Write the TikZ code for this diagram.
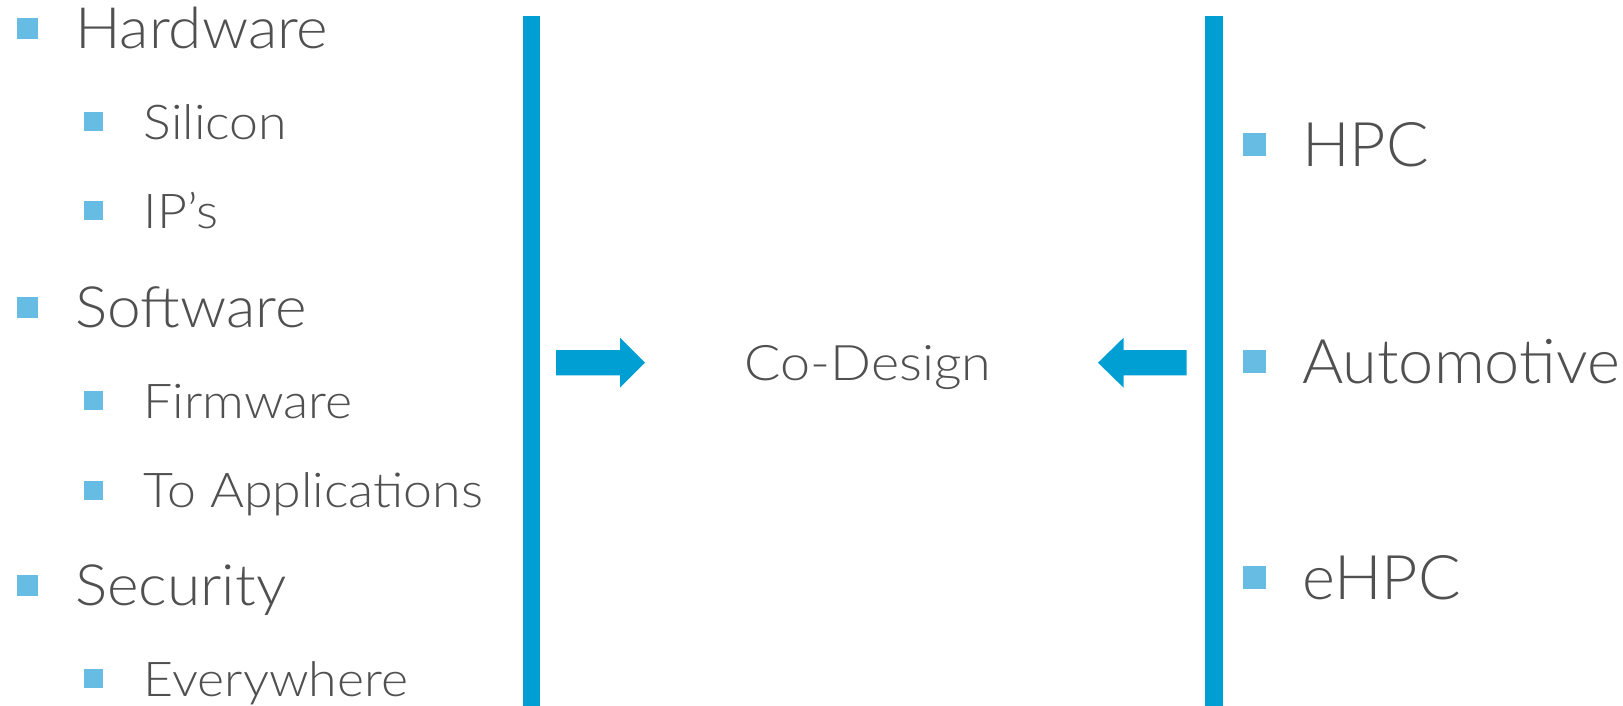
\documentclass[tikz,border=0pt]{standalone}
\usepackage{fontspec}
\newfontfamily\mainf{Lato Light}[FakeStretch=1.06]
\newfontfamily\subf{Lato Light}[FakeStretch=1.08]
\newfontfamily\midf{Lato Light}[FakeStretch=1.10]
\newfontfamily\rightf{Lato Light}[FakeStretch=1.025]
\definecolor{barblue}{RGB}{0,159,211}
\definecolor{bulblue}{RGB}{103,188,228}
\definecolor{txtgrey}{RGB}{80,80,80}
\begin{document}
\begin{tikzpicture}[x=1pt,y=-1pt,
  bar/.style={fill=barblue,draw=none},
  blockarrow/.style={fill=barblue,draw=none},
  bul/.style={fill=bulblue,draw=none,rectangle,inner sep=0pt,minimum size=#1},
  maintxt/.style={anchor=base west,inner sep=0pt,text=txtgrey,font=\mainf\fontsize{57}{60}\selectfont},
  subtxt/.style={anchor=base west,inner sep=0pt,text=txtgrey,font=\subf\fontsize{48}{50}\selectfont},
  righttxt/.style={anchor=base west,inner sep=0pt,text=txtgrey,font=\rightf\fontsize{61.5}{64}\selectfont},
  midtxt/.style={anchor=base,inner sep=0pt,text=txtgrey,font=\midf\fontsize{49}{52}\selectfont}
]
\useasboundingbox (0,0) rectangle (1623,706);

% vertical bars
\fill[bar] (523,16) rectangle (539.5,706);
\fill[bar] (1205,16) rectangle (1223,706);

% left list
\node[bul=21pt] (bhw) at (27.5,28.5) {};
\node[maintxt] (hw) at (75,48.5) {Hardware};
\node[bul=19pt] (bsi) at (93.5,121.7) {};
\node[subtxt] (si) at (143.5,139.2) {Silicon};
\node[bul=19pt] (bip) at (93.5,210) {};
\node[subtxt] (ip) at (143.5,228) {IP’s};
\node[bul=21pt] (bsw) at (27.5,307) {};
\node[maintxt] (sw) at (75,327) {Software};
\node[bul=19pt] (bfw) at (93.5,400.5) {};
\node[subtxt] (fw) at (143.5,418) {Firmware};
\node[bul=19pt] (bta) at (93.5,490) {};
\node[subtxt] (ta) at (143.5,507.5) {To Applications};
\node[bul=21pt] (bse) at (27.5,585.5) {};
\node[maintxt] (se) at (75,605.5) {Security};
\node[bul=19pt] (bev) at (93.5,678.5) {};
\node[subtxt] (ev) at (143.5,696) {Everywhere};

% centre
\node[midtxt] (cd) at (868,380) {Co-Design};
\fill[blockarrow] (556,350) -- (620,350) -- (620,337.7) -- (645,362.7)
  -- (620,387.7) -- (620,375.3) -- (556,375.3) -- cycle;
\fill[blockarrow] (1186.6,350) -- (1123.6,350) -- (1123.6,337.7) -- (1098,362.7)
  -- (1123.6,387.7) -- (1123.6,375.3) -- (1186.6,375.3) -- cycle;

% right list
\node[bul=23pt] (bhpc) at (1254.7,144.6) {};
\node[righttxt] (hpc) at (1302,166.7) {HPC};
\node[bul=23pt] (bau) at (1254.7,361.3) {};
\node[righttxt] (au) at (1302,383.3) {Automotive};
\node[bul=23pt] (behpc) at (1254.7,577.3) {};
\node[righttxt] (ehpc) at (1302,599.3) {eHPC};
\end{tikzpicture}
\end{document}
